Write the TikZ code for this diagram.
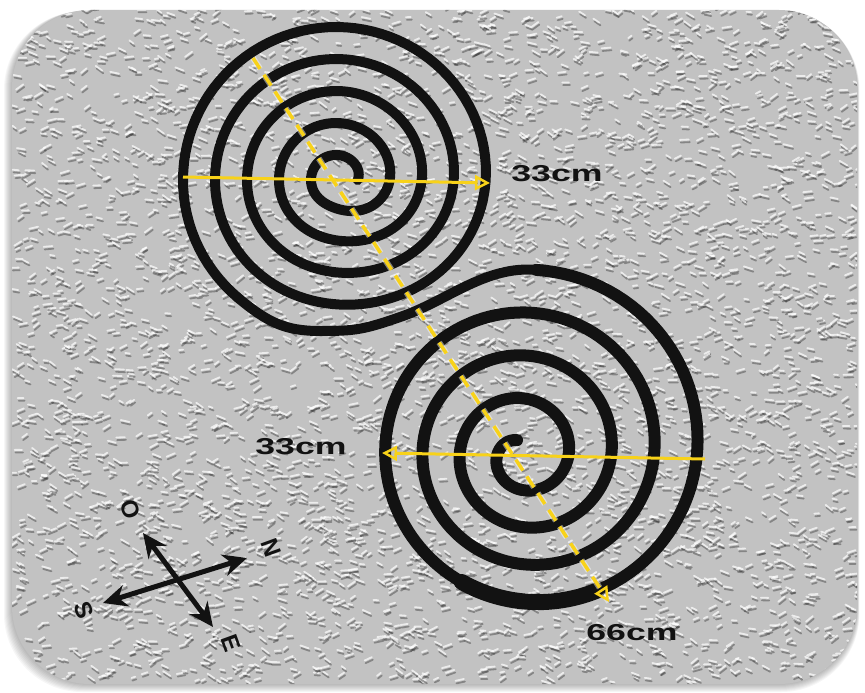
\documentclass[tikz,border=0pt]{standalone}
\usepackage{fontspec}
\newfontfamily\lblfont{Liberation Sans}
\usetikzlibrary{arrows.meta}
\definecolor{bgc}{RGB}{194,194,194}
\definecolor{ink}{RGB}{18,18,18}
\definecolor{ylw}{RGB}{248,210,25}
\tikzset{
  declare function={
    gone(\vv)=\vv-sin(360*\vv)/(2*pi);
    rtop(\ww)=153-32*gone(gone((\ww-225)/360));
    rbot(\ww)=(175-(\ww-270)/9)*(1+0.1*cos(\ww-315));
  },
  spiraltop/.style={draw=ink, line width=10pt, line cap=round, line join=round},
  spiralbot/.style={draw=ink, line width=12pt, line cap=round, line join=round},
  measure/.style={draw=ylw, line width=3pt},
  measuredash/.style={draw=ylw, line width=3.5pt, dash pattern=on 13pt off 7pt},
  ytip/.style={-{Triangle[open,length=15pt,width=15pt,line width=2.5pt]}},
  lbl/.style={font=\lblfont\bfseries\fontsize{23}{23}\selectfont, text=ink, xscale=1.55, inner sep=0pt},
  dirlbl/.style={font=\lblfont\bfseries\fontsize{24}{24}\selectfont, text=ink, rotate=-70, inner sep=0pt},
  compass/.style={draw=ink, line width=5pt, {Stealth[length=24pt,width=22pt]}-{Stealth[length=24pt,width=22pt]}},
  graindark/.style={draw=black!80, opacity=0.42, line width=1.8pt, line cap=round},
  grainlight/.style={draw=white, opacity=0.7, line width=1.8pt, line cap=round},
}
\begin{document}
\begin{tikzpicture}[x=1pt,y=-1pt]
\useasboundingbox (0,0) rectangle (865,693);
\fill[white] (0,0) rectangle (865,693);
% soft shadow of the panel
\foreach \k in {1,...,8}{
  \fill[black,opacity=0.035,rounded corners=78pt] (12-\k,10+0.2*\k) rectangle (857+0.3*\k,684+\k);
}
% textured panel
\fill[bgc, rounded corners=78pt] (12,10) rectangle (857,684);
\begin{scope}
  \clip[rounded corners=78pt] (12,10) rectangle (857,684);
  \pgfmathsetseed{42}
  \foreach \i in {1,...,4600}{
    \pgfmathsetmacro{\px}{12+845*rnd}
    \pgfmathsetmacro{\py}{10+674*rnd}
    \pgfmathsetmacro{\pa}{-40+80*rnd}
    \pgfmathsetmacro{\pl}{4+5*rnd}
    \draw[graindark] (\px,\py) -- ++(\pa:\pl);
    \draw[grainlight] (\px-1,\py-2.6) -- ++(\pa:\pl);
  }
\end{scope}

% spirals
\coordinate (ctop) at (336,180);
\coordinate (cbot) at (520,457);
\draw[spiraltop] plot[domain=1800:130, samples=500, variable=\t]
  ({336+rtop(\t)*cos(\t)},{180+rtop(\t)*sin(\t)});
\coordinate (topexit) at ({336+rtop(130)*cos(130)},{180+rtop(130)*sin(130)});
\coordinate (botstart) at ({520+rbot(275)*cos(275)},{457+rbot(275)*sin(275)});
\coordinate (s1) at (320,331);
\coordinate (s2) at (403,316);
\draw[spiraltop] (topexit) .. controls +(30,25) and +(-35,0) .. (s1)
  .. controls +(35,0) and +(-39.5,13.9) .. (s2)
  .. controls +(45,-16) and +(-50,-4.4) .. (botstart);
\draw[spiralbot] plot[domain=275:1700, samples=500, variable=\t]
  ({520+rbot(\t)*cos(\t)},{457+rbot(\t)*sin(\t)});
\draw[spiralbot, line width=16pt] plot[domain=420:475, samples=30, variable=\t]
  ({520+rbot(\t)*cos(\t)},{457+rbot(\t)*sin(\t)});

% yellow measurement lines
\coordinate (dA) at (253,58);
\coordinate (dB) at (609,602);
\draw[white, opacity=0.45, line width=6pt, dash pattern=on 13pt off 7pt] (dA) -- (dB);
\draw[measuredash, ytip] (dA) -- (dB);
\coordinate (hA) at (183,177);
\coordinate (hB) at (490,183);
\draw[measure, ytip] (hA) -- (hB);
\coordinate (kA) at (705,459);
\coordinate (kB) at (382,453);
\draw[measure, ytip] (kA) -- (kB);

% labels
\node[lbl] (lbltop) at (557,174) {33cm};
\node[lbl] (lblbot) at (301,447) {33cm};
\node[lbl] (lbldiag) at (632,633) {66cm};

% compass
\coordinate (cS) at (103,603);
\coordinate (cN) at (247,558);
\coordinate (cO) at (143,533);
\coordinate (cE) at (213,627);
\draw[compass] (cS) -- (cN);
\draw[compass] (cO) -- (cE);
\node[dirlbl] (lO) at (130,509) {O};
\node[dirlbl] (lN) at (271,548) {N};
\node[dirlbl] (lS) at (84,610) {S};
\node[dirlbl] (lE) at (231,643) {E};
\end{tikzpicture}
\end{document}
